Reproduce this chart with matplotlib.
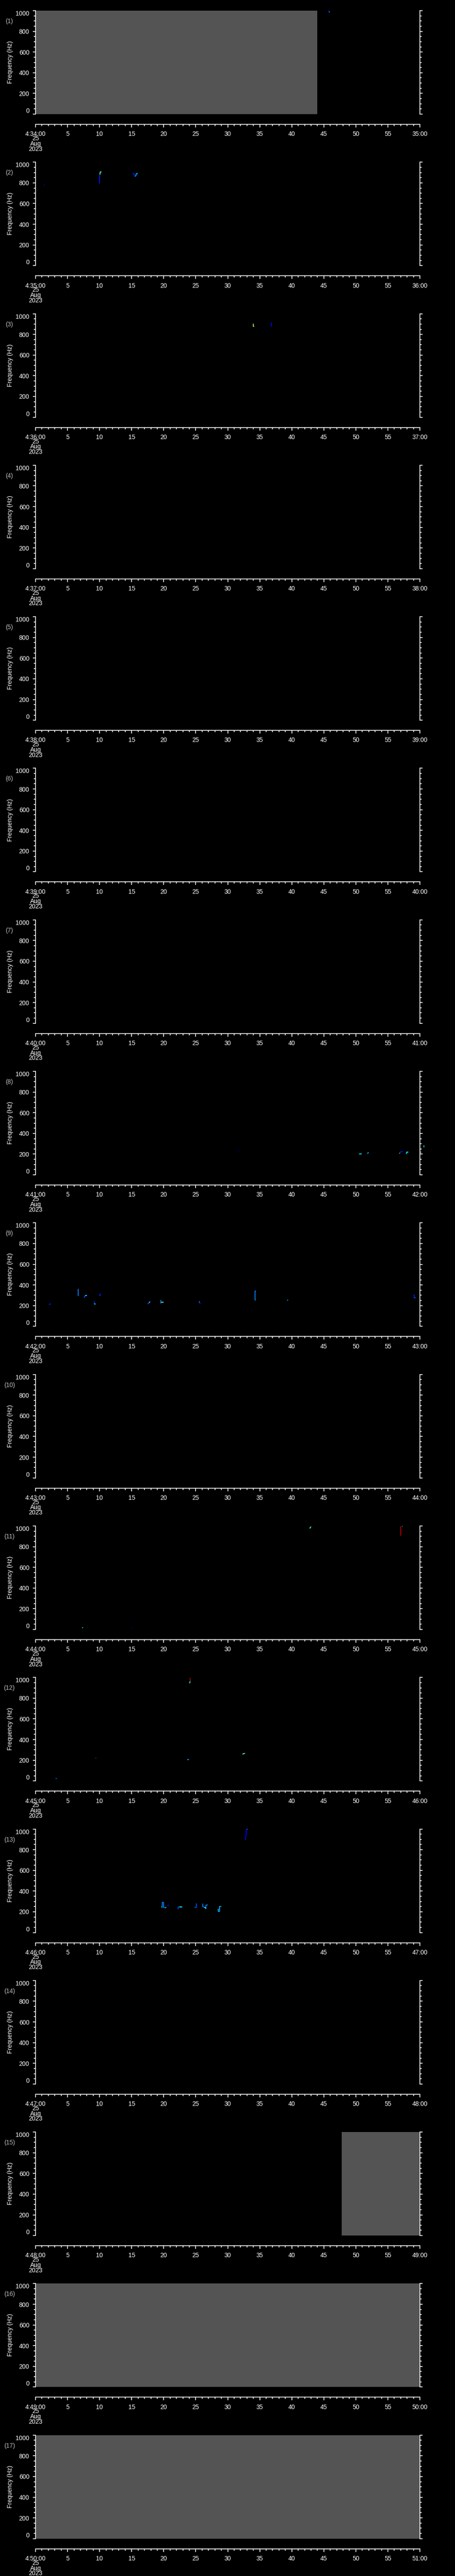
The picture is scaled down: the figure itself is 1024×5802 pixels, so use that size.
#!/usr/bin/env python3
"""
Stacked one-minute dynamic-spectrum panels, 04:34 - 04:51 UT, 25 Aug 2023.
"""

import matplotlib
matplotlib.use("Agg")
import matplotlib.pyplot as plt
from matplotlib.ticker import MultipleLocator, FixedLocator, FixedFormatter

plt.rcParams["font.family"] = ["Liberation Sans", "DejaVu Sans"]

# ------------------------------------------------------------------
# 1  data
# ------------------------------------------------------------------
start_minutes = list(range(34, 51))          # 4:34 ... 4:50, one panel each
date_lines = "25\nAug\n2023"

# no-data (grey) intervals: panel number, start s, end s
gap_panel = [1, 15, 16, 17]
gap_start = [0.0, 47.8, 0.0, 0.0]
gap_end = [44.0, 60.0, 60.0, 60.0]

# detected traces: panel, seconds, Hz, colour level (0..1 on jet)
trace_panel = [
    1,
    2, 2, 2, 2, 2,
    3, 3,
    8, 8, 8, 8, 8, 8, 8, 8, 8,
    9, 9, 9, 9, 9, 9, 9, 9, 9, 9, 9, 9, 9, 9, 9, 9, 9, 9, 9,
    11, 11, 11, 11, 11, 11,
    12, 12, 12, 12, 12, 12, 12,
    13, 13, 13, 13, 13, 13, 13, 13, 13, 13, 13, 13, 13,
]
trace_t = [
    [45.8, 45.9],
    [1.35, 1.45], [10.0, 10.0], [10.05, 10.1, 10.3],
    [15.15, 15.35, 15.45, 15.6], [15.6, 15.75, 15.97],
    [34.0, 34.0, 34.15], [36.8, 36.8, 36.9],
    [31.6, 31.7], [50.6, 50.6, 50.9], [51.8, 51.9, 52.0], [53.8, 53.85],
    [56.8, 56.9, 57.1, 57.3], [56.8, 56.8], [57.9, 57.9, 58.2],
    [60.1, 60.2], [60.6, 60.6, 60.7],
    [2.1, 2.2, 2.4], [6.65, 6.65], [6.7, 6.75], [7.56, 7.7, 7.8, 8.08],
    [7.8, 8.0], [9.08, 9.15, 9.15], [9.15, 9.36], [9.9, 10.05, 10.05, 10.2],
    [17.5, 17.7, 17.8, 17.96], [17.75, 17.8], [19.55, 19.55, 19.65],
    [19.65, 19.99], [25.5, 25.6, 25.7], [25.5, 25.6], [34.3, 34.3, 34.4],
    [34.3, 34.35], [39.3, 39.4], [59.1, 59.1, 59.3], [59.2, 59.3],
    [7.3, 7.4], [15.05, 15.15], [42.8, 42.9, 43.0], [42.8, 42.85],
    [57.05, 57.05], [57.2, 57.3],
    [3.15, 3.3], [9.35, 9.45], [24.17, 24.17], [24.0, 24.1, 24.1],
    [23.7, 23.97], [23.7, 23.8], [32.3, 32.5, 32.7],
    [32.8, 32.9, 33.1], [33.0, 33.1], [19.6, 19.7],
    [19.8, 19.8, 19.95, 19.95], [20.1, 20.3, 20.4], [20.6, 20.7, 20.8],
    [22.3, 22.3, 22.9], [22.5, 22.9], [24.8, 25.1, 25.1, 25.2],
    [26.1, 26.1, 26.5, 26.6, 26.6, 26.9], [26.4, 26.6],
    [28.5, 28.5, 28.7, 28.7, 29.0], [28.5, 28.55],
]
trace_f = [
    [999, 980],
    [777, 777], [797, 876], [880, 906, 906],
    [890, 890, 862, 862], [862, 890, 890],
    [904, 878, 878], [873, 914, 914],
    [233, 233], [198, 203, 203], [205, 212, 218], [212, 212],
    [205, 215, 225, 225], [205, 212], [200, 218, 218],
    [218, 218], [282, 270, 270],
    [208, 216, 216], [363, 295], [295, 295], [276, 292, 299, 299],
    [296, 296], [239, 239, 214], [214, 214], [299, 299, 312, 312],
    [216, 225, 239, 239], [228, 235], [256, 225, 225],
    [235, 235], [235, 235, 214], [237, 237], [256, 339, 339],
    [256, 256], [256, 249], [305, 276, 276], [276, 276],
    [17, 17], [17, 17], [976, 985, 994], [976, 980],
    [904, 994], [994, 994],
    [21, 21], [218, 218], [996, 963], [946, 950, 963],
    [209, 205], [209, 209], [258, 264, 266],
    [891, 996, 996], [996, 996], [246, 246],
    [239, 291, 291, 239], [239, 239, 246], [258, 263, 263],
    [224, 249, 249], [249, 249], [241, 241, 279, 279],
    [279, 250, 240, 231, 265, 265], [245, 231],
    [226, 206, 206, 253, 253], [226, 226],
]
trace_level = [
    0.22,
    0.12, 0.15, 0.45, 0.15, 0.3,
    0.55, 0.12,
    0.12, 0.35, 0.3, 0.68, 0.15, 0.6, 0.35, 0.5, 0.35,
    0.15, 0.25, 0.35, 0.2, 0.38, 0.15, 0.38, 0.15, 0.2, 0.5, 0.25,
    0.5, 0.15, 0.5, 0.25, 0.4, 0.3, 0.15, 0.25,
    0.35, 0.12, 0.45, 0.35, 0.95, 0.35,
    0.2, 0.25, 0.97, 0.38, 0.25, 0.38, 0.45,
    0.12, 0.3, 0.4, 0.25, 0.3, 0.15, 0.2, 0.4, 0.2, 0.25, 0.4, 0.3, 0.4,
]

# ------------------------------------------------------------------
# 2  layout (pixels)
# ------------------------------------------------------------------
W, H = 1024, 5802
pitch = H / len(start_minutes)
plot_l, plot_r = 80, 945
plot_top, plot_bot = 24, 257
xaxis_y = 280
grey = "#545454"
cmap = plt.get_cmap("jet")

fig = plt.figure(figsize=(W / 100, H / 100), dpi=100, facecolor="black")

for i, minute in enumerate(start_minutes):
    n = i + 1
    y0 = i * pitch

    ax = fig.add_axes([plot_l / W, 1 - (y0 + plot_bot) / H,
                       (plot_r - plot_l) / W, (plot_bot - plot_top) / H])
    ax.set_facecolor("black")
    ax.set_xlim(0, 60)
    ax.set_ylim(0, 1000)
    for s in ("top", "bottom"):
        ax.spines[s].set_visible(False)
    for s in ("left", "right"):
        ax.spines[s].set_color("white")
        ax.spines[s].set_linewidth(1.2)
    ax.tick_params(axis="x", which="both", bottom=False, labelbottom=False)
    ax.yaxis.set_major_locator(MultipleLocator(200))
    ax.yaxis.set_minor_locator(MultipleLocator(50))
    ax.tick_params(axis="y", which="both", left=True, right=True,
                   direction="out", colors="white", width=1.2)
    ax.tick_params(axis="y", which="major", length=4, pad=6, labelsize=10)
    ax.tick_params(axis="y", which="minor", length=3)
    fig.canvas.draw_idle()
    ylabels = ax.get_yticklabels()

    for g in range(len(gap_panel)):
        if gap_panel[g] == n:
            ax.axvspan(gap_start[g], gap_end[g], color=grey, lw=0, zorder=1)

    for k in range(len(trace_panel)):
        if trace_panel[k] == n:
            ax.plot(trace_t[k], trace_f[k], color=cmap(trace_level[k]),
                    lw=1.4, clip_on=False, zorder=3,
                    solid_capstyle="butt")

    # y tick labels: end labels kept inside the axis range
    ax.set_yticks(range(0, 1001, 200))
    ax.set_yticklabels([str(v) for v in range(0, 1001, 200)])
    for lab in ax.get_yticklabels():
        lab.set_color("white")
    labs = ax.get_yticklabels()
    labs[0].set_va("bottom")
    labs[-1].set_va("top")

    # separate time axis below the panel
    axx = fig.add_axes([plot_l / W, 1 - (y0 + xaxis_y) / H,
                        (plot_r - plot_l) / W, 0.00001])
    axx.patch.set_visible(False)
    for s in ("top", "left", "right"):
        axx.spines[s].set_visible(False)
    axx.spines["bottom"].set_color("white")
    axx.spines["bottom"].set_linewidth(1.2)
    axx.set_xlim(0, 60)
    axx.set_yticks([])
    ticks = list(range(0, 61, 5))
    names = [f"4:{minute}:00"] + [str(t) for t in ticks[1:-1]] + [f"{minute + 1}:00"]
    axx.xaxis.set_major_locator(FixedLocator(ticks))
    axx.xaxis.set_major_formatter(FixedFormatter(names))
    axx.xaxis.set_minor_locator(MultipleLocator(1))
    axx.tick_params(axis="x", which="both", direction="out", colors="white",
                    width=1.2, labelsize=10)
    axx.tick_params(axis="x", which="major", length=5, pad=6)
    axx.tick_params(axis="x", which="minor", length=3)

    fig.text(plot_l / W, 1 - (y0 + 305) / H, date_lines, color="white",
             fontsize=10, ha="center", va="top", linespacing=0.8)

    fig.text(23 / W, 1 - (y0 + 140) / H, "Frequency (Hz)", color="white",
             fontsize=10, rotation=90, ha="center", va="center")
    fig.text(21 / W, 1 - (y0 + 48) / H, f"({n})", color="#bdbdbd",
             fontsize=10, ha="center", va="center")

fig.savefig("out.png", dpi=100, facecolor="black")
plt.close(fig)
print("saved out.png")
